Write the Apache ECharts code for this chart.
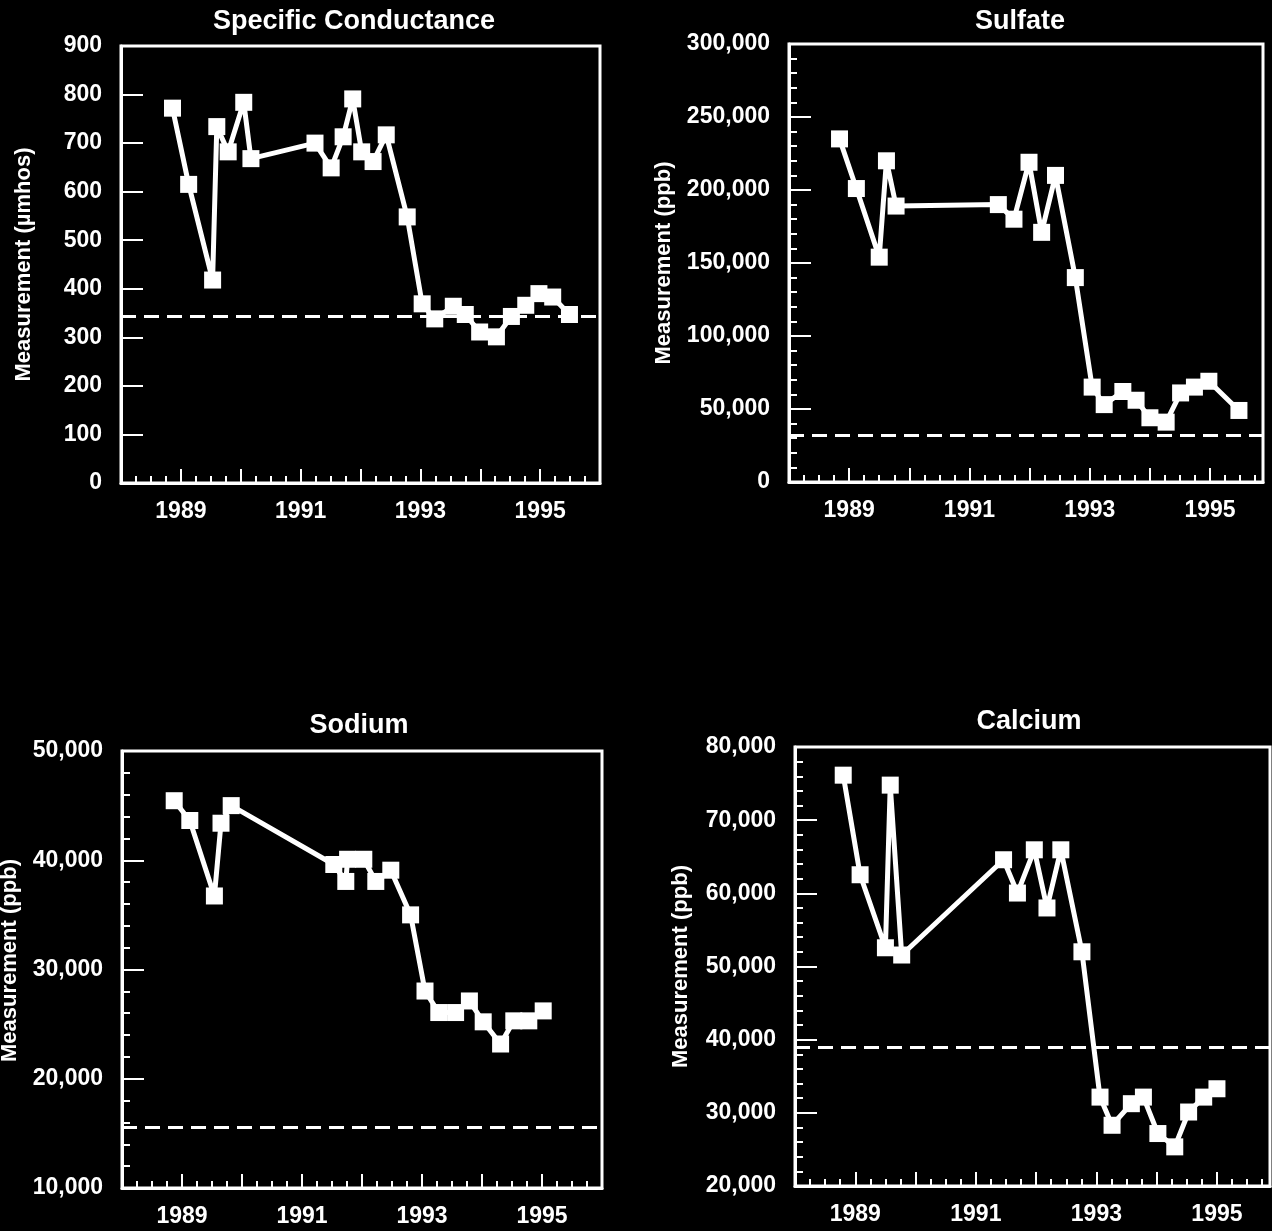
<!DOCTYPE html>
<html>
<head>
<meta charset="utf-8">
<script src="https://cdn.jsdelivr.net/npm/echarts@6/dist/echarts.min.js"></script>
<style>
html,body{margin:0;padding:0;background:#000;}
#chart{width:1272px;height:1231px;}
</style>
</head>
<body>
<div id="chart"></div>
<script>
// ---- Data ----
const titles = ['Specific Conductance', 'Sulfate', 'Sodium', 'Calcium'];
const yNames = ['Measurement (\u00b5mhos)', 'Measurement (ppb)', 'Measurement (ppb)', 'Measurement (ppb)'];
const xTickLabels = [1989, 1991, 1993, 1995];

const scDates  = [1988.86,1989.13,1989.53,1989.60,1989.79,1990.05,1990.17,1991.24,1991.51,1991.71,1991.87,1992.02,1992.21,1992.43,1992.78,1993.03,1993.24,1993.55,1993.75,1993.99,1994.27,1994.52,1994.76,1994.98,1995.21,1995.49];
const scValues = [772,615,418,734,682,784,668,700,649,713,791,682,662,717,548,369,338,364,347,311,301,343,366,390,383,347];
const scStandard = 343;

const so4Dates  = [1988.84,1989.12,1989.50,1989.62,1989.78,1991.48,1991.74,1991.99,1992.20,1992.43,1992.76,1993.04,1993.24,1993.55,1993.77,1994.00,1994.27,1994.51,1994.74,1994.98,1995.48];
const so4Values = [235000,201000,154000,220000,189000,190000,180000,219000,171000,210000,140000,65000,53000,62000,56000,44000,41000,61000,65000,69000,49000];
const so4Standard = 32000;

const naDates  = [1988.87,1989.13,1989.54,1989.65,1989.82,1991.53,1991.73,1991.76,1992.03,1992.23,1992.48,1992.81,1993.05,1993.28,1993.56,1993.79,1994.02,1994.31,1994.53,1994.78,1995.02];
const naValues = [45450,43640,36730,43390,45000,39610,38060,40090,40090,38060,39090,35000,28030,26060,26060,27120,25210,23180,25300,25300,26210];
const naStandard = 15600;

const caDates  = [1988.80,1989.08,1989.50,1989.58,1989.77,1991.46,1991.69,1991.97,1992.18,1992.41,1992.76,1993.06,1993.26,1993.58,1993.78,1994.02,1994.30,1994.53,1994.78,1995.00];
const caValues = [76150,62540,52560,74790,51570,64590,60040,65950,58000,65950,52010,32150,28300,31250,32150,27170,25350,30110,32150,33290];
const caStandard = 39000;

const yMins = [0, 0, 10000, 20000];
const yMaxs = [900, 300000, 50000, 80000];
const yIntervals = [100, 50000, 10000, 10000];

// ---- Layout / style ----
const FONT = 'Liberation Sans';
const grids = [
  {left:121, top:46,  width:479, height:437},
  {left:789, top:44,  width:474, height:438},
  {left:122, top:751, width:480, height:437},
  {left:795, top:747, width:475, height:439}
];
const xMaxs = [1996, 1995.88, 1996, 1995.88];
const nameGaps = [86, 114, 101, 103];
const namePad = [[0,0,0,0], [0,0,0,0], [0,0,0,18], [0,0,0,0]];
const yMinor = [false, true, true, true];
const titlePos = [[349, 3], [1015, 3], [354, 707], [1024, 703]];

const datasets = [
  [scDates, scValues, scStandard],
  [so4Dates, so4Values, so4Standard],
  [naDates, naValues, naStandard],
  [caDates, caValues, caStandard]
];

function fmtThousands(v){
  return String(Math.round(v)).replace(/\B(?=(\d{3})+(?!\d))/g, ',');
}

const option = {
  backgroundColor: '#000',
  animation: false,
  title: titles.map((t,i)=>({
    text: t, left: titlePos[i][0], top: titlePos[i][1], textAlign: 'center',
    textStyle: {color:'#fff', fontFamily: FONT, fontWeight:'bold', fontSize:27}
  })),
  grid: grids.map(g=>Object.assign({show:true, borderColor:'#fff', borderWidth:3, backgroundColor:'transparent', containLabel:false, outerBoundsMode:'none'}, g)),
  xAxis: grids.map((g,i)=>({
    type:'value', gridIndex:i, min:1988, max:xMaxs[i], interval:1,
    axisLine:{show:true, lineStyle:{color:'#fff', width:3}},
    axisTick:{show:true, inside:true, length:14, lineStyle:{color:'#fff', width:2}},
    minorTick:{show:true, splitNumber:4, length:7, lineStyle:{color:'#fff', width:2}},
    splitLine:{show:false},
    axisLabel:{
      color:'#fff', fontFamily:FONT, fontWeight:'bold', fontSize:23, margin:17,
      showMinLabel:true, showMaxLabel:true, hideOverlap:false,
      formatter: function(v){
        const r = Math.round(v);
        if (Math.abs(v - r) < 1e-6 && xTickLabels.indexOf(r) >= 0) return String(r);
        return '';
      }
    }
  })),
  yAxis: grids.map((g,i)=>({
    type:'value', gridIndex:i, min:yMins[i], max:yMaxs[i], interval:yIntervals[i],
    name: yNames[i], nameLocation:'middle', nameGap:nameGaps[i],
    nameTextStyle:{color:'#fff', fontFamily:FONT, fontWeight:'bold', fontSize:22, padding:namePad[i]},
    axisLine:{show:true, lineStyle:{color:'#fff', width:3}},
    axisTick:{show:true, inside:true, length:22, lineStyle:{color:'#fff', width:2}},
    minorTick:{show:yMinor[i], splitNumber:5, length:8, lineStyle:{color:'#fff', width:2}},
    splitLine:{show:false},
    axisLabel:{
      color:'#fff', fontFamily:FONT, fontWeight:'bold', fontSize:23, margin:19,
      showMinLabel:true, showMaxLabel:true, hideOverlap:false,
      formatter: fmtThousands
    }
  })),
  series: datasets.map((d,i)=>({
    type:'line', xAxisIndex:i, yAxisIndex:i,
    data: d[0].map((x,k)=>[x, d[1][k]]),
    symbol:'rect', symbolSize:17, showSymbol:true,
    lineStyle:{color:'#fff', width:5},
    itemStyle:{color:'#fff'},
    markLine:{
      silent:true, symbol:['none','none'], animation:false,
      label:{show:false},
      lineStyle:{color:'#fff', width:3, type:[15,8]},
      data:[{yAxis:d[2]}]
    }
  }))
};

const chart = echarts.init(document.getElementById('chart'), null, {renderer:'canvas'});
chart.setOption(option);
</script>
</body>
</html>
